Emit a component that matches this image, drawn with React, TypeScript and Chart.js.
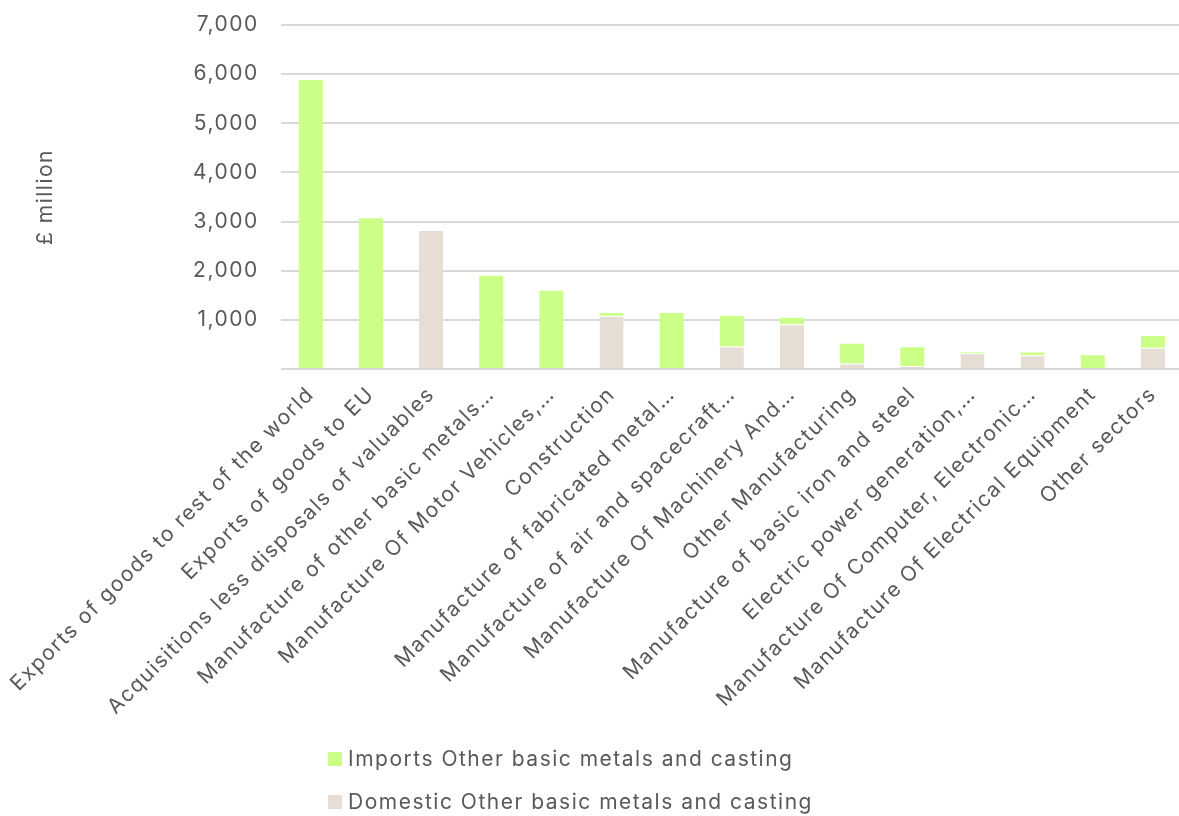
import React, { useEffect, useRef } from "react";
import { Chart, registerables } from "chart.js";

Chart.register(...registerables);

const categories: string[] = [
  "Exports of goods to rest of the world",
  "Exports of goods to EU",
  "Acquisitions less disposals of valuables",
  "Manufacture of other basic metals…",
  "Manufacture Of Motor Vehicles,…",
  "Construction",
  "Manufacture of fabricated metal…",
  "Manufacture of air and spacecraft…",
  "Manufacture Of Machinery And…",
  "Other Manufacturing",
  "Manufacture of basic iron and steel",
  "Electric power generation,…",
  "Manufacture Of Computer, Electronic…",
  "Manufacture Of Electrical Equipment",
  "Other sectors",
];

const importsValues: number[] = [5880, 3070, 0, 1900, 1590, 55, 1137, 623, 130, 404, 383, 20, 55, 281, 239];
const domesticValues: number[] = [0, 0, 2830, 0, 0, 1082, 0, 459, 911, 110, 62, 322, 281, 0, 432];

const seriesLabels: string[] = [
  "Imports Other basic metals and casting",
  "Domestic Other basic metals and casting",
];
const seriesColors: string[] = ["#ccff88", "#e6ded5"];

const yTicks: number[] = [0, 1000, 2000, 3000, 4000, 5000, 6000, 7000];
const yTitle = "£ million";

const FONT = "Inter, 'Noto Sans', sans-serif";
const TEXT = "#595959";
const SPACING = "1.5px";

const spacingPlugin = {
  id: "letterSpacing",
  beforeUpdate(chart: any) {
    chart.ctx.letterSpacing = SPACING;
  },
  beforeDraw(chart: any) {
    chart.ctx.letterSpacing = SPACING;
  },
};

export default function App() {
  const ref = useRef<HTMLCanvasElement | null>(null);

  useEffect(() => {
    document.body.style.margin = "0";
    const canvas = ref.current;
    if (!canvas) return;
    const chart = new Chart(canvas, {
      type: "bar",
      plugins: [spacingPlugin],
      data: {
        labels: categories,
        datasets: [
          {
            label: seriesLabels[1],
            data: domesticValues,
            backgroundColor: seriesColors[1],
            borderColor: "#ffffff",
            borderWidth: { top: 1, left: 0, right: 0, bottom: 0 },
            barPercentage: 0.8,
            categoryPercentage: 0.5,
          },
          {
            label: seriesLabels[0],
            data: importsValues,
            backgroundColor: seriesColors[0],
            barPercentage: 0.8,
            categoryPercentage: 0.5,
          },
        ],
      },
      options: {
        animation: false,
        responsive: false,
        maintainAspectRatio: false,
        layout: { padding: { top: 25, right: 0, bottom: 0, left: 0 } },
        plugins: {
          legend: { display: false },
          tooltip: { enabled: false },
        },
        scales: {
          x: {
            stacked: true,
            grid: { display: false },
            border: { display: false },
            ticks: {
              autoSkip: false,
              maxRotation: 45,
              minRotation: 45,
              color: TEXT,
              font: { family: FONT, size: 21 },
              padding: 5,
            },
            afterFit: (s: any) => {
              s.height = 816 - 369;
            },
          },
          y: {
            stacked: true,
            min: 0,
            max: 7000,
            afterBuildTicks: (s: any) => {
              s.ticks = yTicks.map((v) => ({ value: v }));
            },
            grid: { color: "#d9d9d9", lineWidth: 2, drawTicks: false },
            border: { display: false },
            ticks: {
              color: TEXT,
              font: { family: FONT, size: 21 },
              padding: 22,
              callback: (v: any) => (v === 0 ? "" : Number(v).toLocaleString("en-US")),
            },
            title: {
              display: true,
              text: yTitle,
              color: TEXT,
              font: { family: FONT, size: 21 },
              padding: { top: 32, bottom: 0 },
            },
            afterFit: (s: any) => {
              s.width = 280;
              s.paddingTop = 0;
              s.paddingBottom = 0;
            },
          },
        },
      },
    });
    return () => chart.destroy();
  }, []);

  const legendItem = (i: number, top: number) => (
    <div
      style={{
        position: "absolute",
        left: 328,
        top,
        display: "flex",
        alignItems: "center",
        fontFamily: FONT,
        fontSize: 21,
        letterSpacing: SPACING,
        color: TEXT,
        whiteSpace: "nowrap",
      }}
    >
      <span style={{ display: "inline-block", width: 14, height: 14, background: seriesColors[i], marginRight: 6 }} />
      <span>{seriesLabels[i]}</span>
    </div>
  );

  return (
    <div style={{ position: "relative", width: 1179, height: 816, overflow: "hidden", background: "#fff" }}>
      <canvas ref={ref} width={1183} height={816} style={{ display: "block" }} />
      {legendItem(0, 746)}
      {legendItem(1, 789)}
    </div>
  );
}
